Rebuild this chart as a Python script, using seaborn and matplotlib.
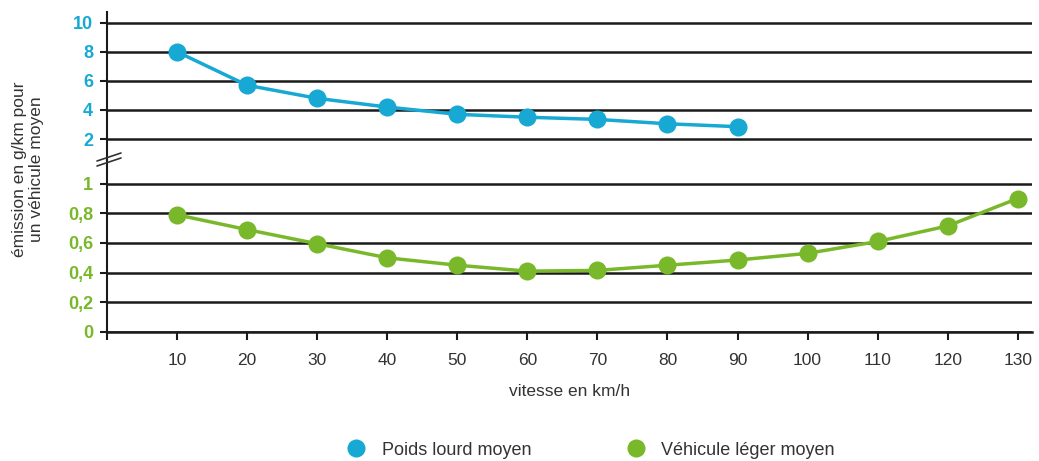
import numpy as np
import pandas as pd
import seaborn as sns
import matplotlib.pyplot as plt
from matplotlib.lines import Line2D

# données
vitesse_pl = [10, 20, 30, 40, 50, 60, 70, 80, 90]
emission_pl = [8.0, 5.7, 4.8, 4.2, 3.7, 3.5, 3.35, 3.05, 2.85]

vitesse_vl = [10, 20, 30, 40, 50, 60, 70, 80, 90, 100, 110, 120, 130]
emission_vl = [0.79, 0.69, 0.595, 0.50, 0.45, 0.41, 0.415, 0.45, 0.485, 0.53, 0.61, 0.715, 0.90]

yticks_pl = [2, 4, 6, 8, 10]
yticks_vl = [0, 0.2, 0.4, 0.6, 0.8, 1]
ylabels_vl = ["0", "0,2", "0,4", "0,6", "0,8", "1"]
xticks = [0, 10, 20, 30, 40, 50, 60, 70, 80, 90, 100, 110, 120, 130]
xlabels = [""] + [str(v) for v in xticks[1:]]

series = ["Poids lourd moyen", "Véhicule léger moyen"]

BLEU = "#17a9d3"
VERT = "#79b82a"
GRIS = "#333333"

sns.set_style("white")
plt.rcParams['font.family'] = ['Liberation Sans', 'DejaVu Sans']

df_pl = pd.DataFrame({"vitesse": vitesse_pl, "emission": emission_pl})
df_vl = pd.DataFrame({"vitesse": vitesse_vl, "emission": emission_vl})

fig = plt.figure(figsize=(10.39, 4.61), dpi=100)
ax_haut = fig.add_axes([0.103, 0.653, 0.890, 0.321])
ax_bas = fig.add_axes([0.103, 0.280, 0.890, 0.373])

#partie haute : poids lourds
sns.lineplot(data=df_pl, x="vitesse", y="emission", ax=ax_haut, color=BLEU, lw=2.5,
             marker="o", markersize=13, markeredgewidth=0)
#partie basse : véhicules légers
sns.lineplot(data=df_vl, x="vitesse", y="emission", ax=ax_bas, color=VERT, lw=2.5,
             marker="o", markersize=13, markeredgewidth=0)

for ax in (ax_haut, ax_bas):
    ax.set_xlim(0, 132)
    ax.set_xlabel("")
    ax.set_ylabel("")
    ax.set_axisbelow(True)
    ax.yaxis.grid(True, color="#1a1a1a", lw=1.8)
    ax.xaxis.grid(False)
    for s in ("top", "right"):
        ax.spines[s].set_visible(False)
    ax.spines["left"].set_color("#1a1a1a")
    ax.spines["left"].set_linewidth(1.5)

ax_haut.set_ylim(0.56, 10.74)
ax_haut.set_yticks(yticks_pl)
ax_haut.set_yticklabels([str(v) for v in yticks_pl], color=BLEU, fontweight="bold", fontsize=13)
ax_haut.spines["bottom"].set_visible(False)
ax_haut.set_xticks([])
ax_haut.tick_params(axis="y", left=True, length=5, width=1.5, color="#1a1a1a", pad=5)

ax_bas.set_ylim(0, 1.16)
ax_bas.set_yticks(yticks_vl)
ax_bas.set_yticklabels(ylabels_vl, color=VERT, fontweight="bold", fontsize=13)
ax_bas.set_xticks(xticks)
ax_bas.set_xticklabels(xlabels, color=GRIS, fontsize=12.5)
ax_bas.spines["bottom"].set_color("#1a1a1a")
ax_bas.spines["bottom"].set_linewidth(1.8)
ax_bas.tick_params(axis="y", left=True, length=5, width=1.5, color="#1a1a1a", pad=5)
ax_bas.tick_params(axis="x", bottom=True, length=6, width=1.5, color="#1a1a1a", pad=9)

# marque de coupure de l'axe
for y0, y1 in ((161, 153), (166, 158)):
    fig.add_artist(Line2D([97 / 1039, 121 / 1039], [1 - y0 / 461, 1 - y1 / 461],
                          transform=fig.transFigure, color=GRIS, lw=1.2))

fig.text(28 / 1039, 1 - 169 / 461, "émission en g/km pour\nun véhicule moyen",
         rotation=90, ha="center", va="center", multialignment="center",
         fontsize=12.5, color=GRIS, linespacing=1.1)
fig.text(570 / 1039, 1 - 391 / 461, "vitesse en km/h", ha="center", va="center",
         fontsize=12.5, color=GRIS)

handles = [Line2D([], [], marker="o", ls="", color=c, markersize=13, markeredgewidth=0)
           for c in (BLEU, VERT)]
leg = fig.legend(handles, series, loc="center", bbox_to_anchor=(590 / 1039, 1 - 450 / 461),
                 ncol=2, frameon=False, fontsize=13, columnspacing=5.2, handletextpad=0.8,
                 handlelength=1.2)
for t in leg.get_texts():
    t.set_color(GRIS)

fig.savefig("out.png", dpi=100)
